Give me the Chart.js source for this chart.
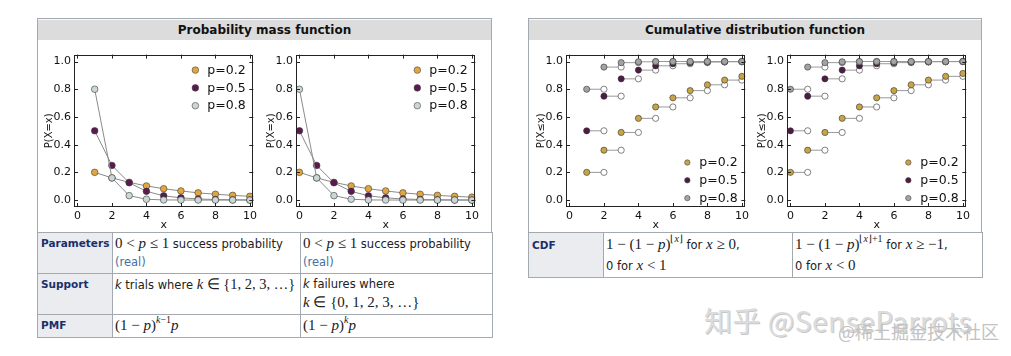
<!DOCTYPE html>
<html><head><meta charset="utf-8">
<script src="https://cdn.jsdelivr.net/npm/chart.js@4.4.1/dist/chart.umd.min.js"></script>
<style>
body{margin:0;width:1011px;height:356px;background:#fff;position:relative;overflow:hidden;font-family:"DejaVu Sans",sans-serif;color:#202122;}
.box{position:absolute;border:1px solid #a2a9b1;background:#f8f9fa;box-sizing:border-box;}
.hdr{position:absolute;left:0;right:0;top:1px;height:20px;background:#dcdcdc;font-weight:bold;font-size:12px;text-align:center;line-height:20px;color:#111;}
.plots{position:absolute;left:0;right:0;top:21px;background:#fff;}
canvas{position:absolute;}
table{position:absolute;border-collapse:collapse;table-layout:fixed;font-size:11.5px;}
td{border:1px solid #a2a9b1;vertical-align:top;padding:1px 2px;line-height:18px;background:#fff;white-space:nowrap;overflow:hidden;}
td.lab{background:#eaecf0;font-weight:bold;color:#1b2f6b;font-size:10.5px;padding-left:3px;}
.m{font-family:"Liberation Serif",serif;font-size:15px;}
.ms{font-family:"Liberation Serif",serif;font-size:14.5px;}
.lnk{color:#4a6ea0;}
sup{font-size:10px;line-height:0;position:relative;top:-1px;}
.wm1{position:absolute;left:704px;top:300px;font-size:28px;font-family:"Noto Sans CJK SC","DejaVu Sans",sans-serif;color:#dcdcdc;white-space:nowrap;letter-spacing:0.5px;text-shadow:1px 1px 0 #c8c8c8;}
.wm2{position:absolute;left:838px;top:318px;font-size:18px;font-family:"Noto Sans CJK SC",sans-serif;color:#c2c2c2;white-space:nowrap;}
</style></head>
<body>
<div class="box" style="left:37px;top:18px;width:455px;height:320px;">
  <div class="hdr">Probability mass function</div>
  <div class="plots" style="height:193px;"></div>
</div>
<div class="box" style="left:528px;top:18px;width:454px;height:260px;">
  <div class="hdr">Cumulative distribution function</div>
  <div class="plots" style="height:193px;"></div>
</div>

<table style="left:37px;top:232px;width:455px;">
<colgroup><col style="width:75px"><col style="width:188px"><col style="width:192px"></colgroup>
<tr style="height:41px"><td class="lab">Parameters</td>
<td><span class="m">0 &lt; <i>p</i> ≤ 1</span> success probability<br><span class="lnk">(real)</span></td>
<td><span class="m">0 &lt; <i>p</i> ≤ 1</span> success probability<br><span class="lnk">(real)</span></td></tr>
<tr style="height:41px"><td class="lab">Support</td>
<td><i>k</i> trials where <span class="ms"><i>k</i> ∈ {1, 2, 3, …}</span></td>
<td><i>k</i> failures where<br><span class="m"><i>k</i> ∈ {0, 1, 2, 3, …}</span></td></tr>
<tr style="height:23px"><td class="lab">PMF</td>
<td><span class="m">(1 − <i>p</i>)<sup><i>k</i>−1</sup><i>p</i></span></td>
<td><span class="m">(1 − <i>p</i>)<sup><i>k</i></sup><i>p</i></span></td></tr>
</table>

<table style="left:528px;top:232px;width:454px;">
<colgroup><col style="width:75px"><col style="width:189px"><col style="width:190px"></colgroup>
<tr style="height:45px"><td class="lab" style="padding-top:3px">CDF</td>
<td style="line-height:20px"><span class="m">1 − (1 − <i>p</i>)<sup>⌊<i>x</i>⌋</sup></span> for <span class="m"><i>x</i> ≥ 0</span>,<br>0 for <span class="m"><i>x</i> &lt; 1</span></td>
<td style="line-height:20px"><span class="m">1 − (1 − <i>p</i>)<sup>⌊<i>x</i>⌋+1</sup></span> for <span class="m"><i>x</i> ≥ −1</span>,<br>0 for <span class="m"><i>x</i> &lt; 0</span></td></tr>
</table>

<canvas id="c1" width="220" height="188" style="left:40px;top:45px"></canvas>
<canvas id="c2" width="220" height="188" style="left:262px;top:45px"></canvas>
<canvas id="c3" width="220" height="188" style="left:532px;top:45px"></canvas>
<canvas id="c4" width="220" height="188" style="left:753px;top:45px"></canvas>

<div class="wm1">知乎 @SenseParrots</div>
<div class="wm2">@稀土掘金技术社区</div>

<script>
// ---------- data ----------
const seriesLabels = ['p=0.2', 'p=0.5', 'p=0.8'];
const xTicks = [0, 2, 4, 6, 8, 10];
const yTicks = [0, 0.2, 0.4, 0.6, 0.8, 1.0];

// PMF, trials (x = 1..10)
const pmfTrialsX = [1, 2, 3, 4, 5, 6, 7, 8, 9, 10];
const pmfTrialsP02 = [0.2, 0.16, 0.128, 0.102, 0.082, 0.066, 0.052, 0.042, 0.034, 0.027];
const pmfTrialsP05 = [0.5, 0.25, 0.125, 0.063, 0.031, 0.016, 0.008, 0.004, 0.002, 0.001];
const pmfTrialsP08 = [0.8, 0.16, 0.032, 0.006, 0.001, 0.0003, 0.0001, 0, 0, 0];

// PMF, failures (x = 0..10)
const pmfFailX = [0, 1, 2, 3, 4, 5, 6, 7, 8, 9, 10];
const pmfFailP02 = [0.2, 0.16, 0.128, 0.102, 0.082, 0.066, 0.052, 0.042, 0.034, 0.027, 0.021];
const pmfFailP05 = [0.5, 0.25, 0.125, 0.063, 0.031, 0.016, 0.008, 0.004, 0.002, 0.001, 0.0005];
const pmfFailP08 = [0.8, 0.16, 0.032, 0.006, 0.001, 0.0003, 0.0001, 0, 0, 0, 0];

// CDF, trials (x = 1..10)
const cdfTrialsX = [1, 2, 3, 4, 5, 6, 7, 8, 9, 10];
const cdfTrialsP02 = [0.2, 0.36, 0.488, 0.59, 0.672, 0.738, 0.79, 0.832, 0.866, 0.893];
const cdfTrialsP05 = [0.5, 0.75, 0.875, 0.938, 0.969, 0.984, 0.992, 0.996, 0.998, 0.999];
const cdfTrialsP08 = [0.8, 0.96, 0.992, 0.998, 1.0, 1.0, 1.0, 1.0, 1.0, 1.0];

// CDF, failures (x = 0..10)
const cdfFailX = [0, 1, 2, 3, 4, 5, 6, 7, 8, 9, 10];
const cdfFailP02 = [0.2, 0.36, 0.488, 0.59, 0.672, 0.738, 0.79, 0.832, 0.866, 0.893, 0.914];
const cdfFailP05 = [0.5, 0.75, 0.875, 0.938, 0.969, 0.984, 0.992, 0.996, 0.998, 0.999, 1.0];
const cdfFailP08 = [0.8, 0.96, 0.992, 0.998, 1.0, 1.0, 1.0, 1.0, 1.0, 1.0, 1.0];

// ---------- styles ----------
const pmfColors = ['#e2a63e', '#5b1a4f', '#c9d7d7'];
const cdfColors = ['#c7a449', '#4d1b43', '#a3a3a3'];
const FONT = 'DejaVu Sans';

// ---------- plugins ----------
const framePlugin = {
  id: 'frame',
  afterDatasetsDraw(chart) {
    const {ctx, chartArea: a, scales} = chart;
    ctx.save();
    ctx.strokeStyle = '#222';
    ctx.lineWidth = 1;
    ctx.strokeRect(Math.round(a.left) + 0.5, Math.round(a.top) + 0.5,
      Math.round(a.right - a.left) - 1, Math.round(a.bottom - a.top) - 1);
    ctx.beginPath();
    xTicks.forEach(v => {
      const px = Math.round(scales.x.getPixelForValue(v)) + 0.5;
      ctx.moveTo(px, a.bottom); ctx.lineTo(px, a.bottom - 4);
      ctx.moveTo(px, a.top); ctx.lineTo(px, a.top + 4);
    });
    yTicks.forEach(v => {
      const py = Math.round(scales.y.getPixelForValue(v)) + 0.5;
      ctx.moveTo(a.left, py); ctx.lineTo(a.left + 4, py);
      ctx.moveTo(a.right, py); ctx.lineTo(a.right - 4, py);
    });
    ctx.stroke();
    ctx.restore();
  }
};

const innerLegend = {
  id: 'innerLegend',
  afterDraw(chart, args, o) {
    if (!o || !o.colors) return;
    const {ctx, chartArea: a} = chart;
    ctx.save();
    ctx.font = '12.5px "' + FONT + '"';
    ctx.textBaseline = 'middle';
    seriesLabels.forEach((lab, i) => {
      const y = o.pos === 'top' ? a.top + 15.5 + i * 17.8 : a.bottom - 44.5 + i * 17.8;
      const mx = a.right - 58;
      ctx.beginPath();
      ctx.arc(mx, y, o.r, 0, Math.PI * 2);
      ctx.fillStyle = o.colors[i];
      ctx.fill();
      ctx.lineWidth = 0.6;
      ctx.strokeStyle = '#444';
      ctx.stroke();
      ctx.fillStyle = '#111';
      ctx.fillText(lab, a.right - 46, y + 0.5);
    });
    ctx.restore();
  }
};

function makeScales(yTitle) {
  return {
    x: {
      type: 'linear', min: -0.2, max: 10.2,
      afterBuildTicks: s => { s.ticks = xTicks.map(v => ({value: v})); },
      ticks: {font: {family: FONT, size: 11}, color: '#111', padding: 3, maxRotation: 0, autoSkip: false,
              callback: v => String(v)},
      grid: {display: false, drawTicks: false}, border: {display: false},
      title: {display: true, text: 'x', font: {family: FONT, size: 11}, color: '#111', padding: {top: 0, bottom: 1}},
      afterFit: s => { s.height = 26; }
    },
    y: {
      type: 'linear', min: -0.05, max: 1.05,
      afterBuildTicks: s => { s.ticks = yTicks.map(v => ({value: v})); },
      ticks: {font: {family: FONT, size: 11}, color: '#111', padding: 3, autoSkip: false,
              callback: v => Number(v).toFixed(1)},
      grid: {display: false, drawTicks: false}, border: {display: false},
      title: {display: true, text: yTitle, font: {family: FONT, size: 10}, color: '#111', padding: {top: 3, bottom: 0}},
      afterFit: s => { s.width = 34; }
    }
  };
}

function pmfDatasets(xs, series) {
  return series.map((vals, i) => ({
    data: xs.map((x, j) => ({x: x, y: vals[j]})),
    borderColor: '#8a8a8a', borderWidth: 1,
    pointBackgroundColor: pmfColors[i], pointBorderColor: '#3a3a3a', pointBorderWidth: 0.6,
    pointRadius: 3.3, order: 2 - i, clip: 0, tension: 0
  }));
}

function cdfDatasets(xs, series) {
  return series.map((vals, i) => {
    const pts = [];
    xs.forEach((x, j) => {
      pts.push({x: x, y: vals[j]});
      pts.push({x: x + 1, y: vals[j]});
      pts.push({x: x + 1, y: null});
    });
    return {
      data: pts, spanGaps: false,
      borderColor: '#9a9a9a', borderWidth: 1,
      pointBackgroundColor: ctx => (ctx.dataIndex % 3 === 0 ? cdfColors[i] : '#ffffff'),
      pointBorderColor: '#333', pointBorderWidth: 0.6,
      pointRadius: ctx => (ctx.dataIndex % 3 === 2 ? 0 : 3.1),
      order: 2 - i, clip: 0, tension: 0
    };
  });
}

function makeChart(id, datasets, yTitle, legend, padRight, padTop) {
  new Chart(document.getElementById(id), {
    type: 'line',
    data: {datasets},
    options: {
      responsive: false, animation: false, devicePixelRatio: 1,
      layout: {padding: {left: 0, right: padRight, top: padTop, bottom: 0}},
      scales: makeScales(yTitle),
      plugins: {legend: {display: false}, tooltip: {enabled: false}, innerLegend: legend},
      elements: {line: {fill: false}}
    },
    plugins: [framePlugin, innerLegend]
  });
}

makeChart('c1', pmfDatasets(pmfTrialsX, [pmfTrialsP02, pmfTrialsP05, pmfTrialsP08]), 'P(X=x)',
  {colors: pmfColors, pos: 'top', r: 3.3}, 5, 8);
makeChart('c2', pmfDatasets(pmfFailX, [pmfFailP02, pmfFailP05, pmfFailP08]), 'P(X=x)',
  {colors: pmfColors, pos: 'top', r: 3.3}, 6, 8);
makeChart('c3', cdfDatasets(cdfTrialsX, [cdfTrialsP02, cdfTrialsP05, cdfTrialsP08]), 'P(X≤x)',
  {colors: cdfColors, pos: 'bottom', r: 2.7}, 6, 7);
makeChart('c4', cdfDatasets(cdfFailX, [cdfFailP02, cdfFailP05, cdfFailP08]), 'P(X≤x)',
  {colors: cdfColors, pos: 'bottom', r: 2.7}, 6, 8);
</script>
</body></html>
